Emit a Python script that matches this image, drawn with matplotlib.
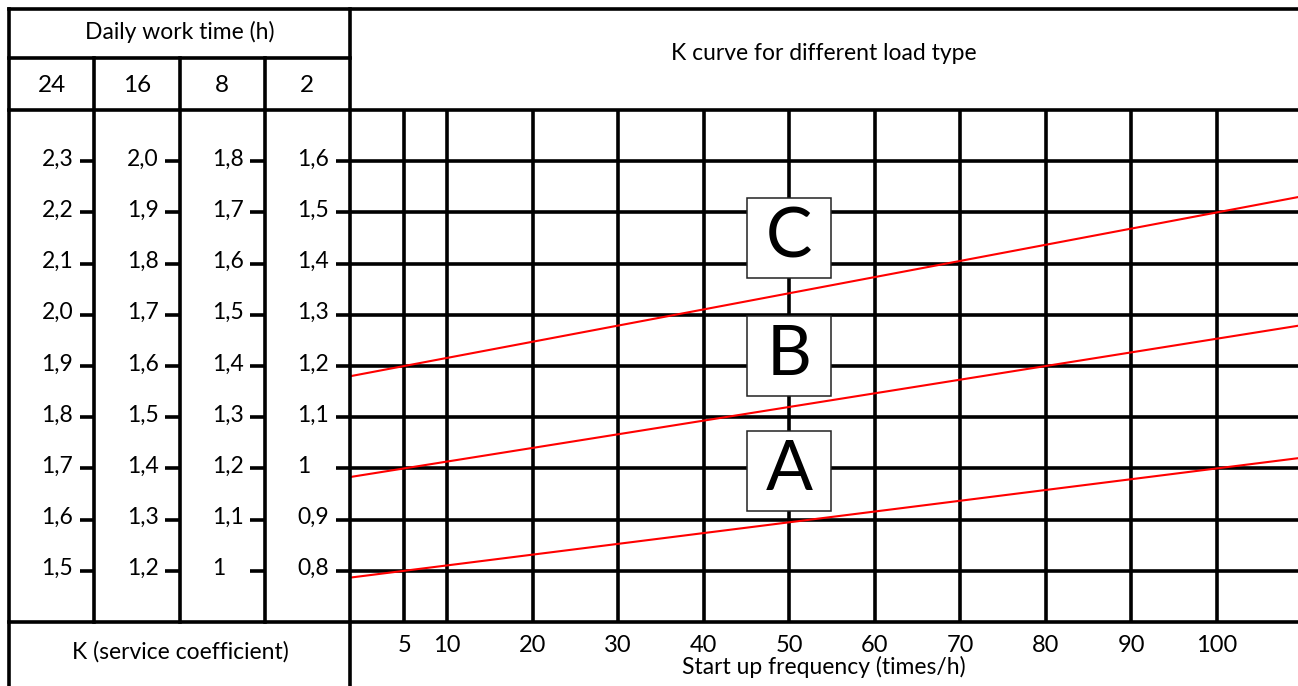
import numpy as np
import matplotlib
matplotlib.use("Agg")
import matplotlib.pyplot as plt
from matplotlib.patches import Rectangle

plt.rcParams['font.family'] = ['Lato', 'DejaVu Sans']

# daily work time columns and their K values (one row per grid line)
hours = ['24', '16', '8', '2']
k_24h = ['2,3', '2,2', '2,1', '2,0', '1,9', '1,8', '1,7', '1,6', '1,5']
k_16h = ['2,0', '1,9', '1,8', '1,7', '1,6', '1,5', '1,4', '1,3', '1,2']
k_8h = ['1,8', '1,7', '1,6', '1,5', '1,4', '1,3', '1,2', '1,1', '1']
k_2h = ['1,6', '1,5', '1,4', '1,3', '1,2', '1,1', '1', '0,9', '0,8']
k_rows = [1.6, 1.5, 1.4, 1.3, 1.2, 1.1, 1.0, 0.9, 0.8]  # 2h scale, used for row position

freq_ticks = [5, 10, 20, 30, 40, 50, 60, 70, 80, 90, 100]

# load type curves, two points read on each (frequency, K on the 2h scale)
load_types = ['A', 'B', 'C']
curve_freq = [(5, 100), (5, 80), (5, 100)]
curve_k = [(0.8, 1.0), (1.0, 1.2), (1.2, 1.5)]
label_k = [0.995, 1.22, 1.45]
label_freq = 50

W, H = 1298, 686
LW = 2.6
fig = plt.figure(figsize=(W / 100, H / 100), dpi=100)


def box(x0, y0, x1, y1):
    # pixel box (top-left origin) -> figure fraction
    return [x0 / W, 1 - y1 / H, (x1 - x0) / W, (y1 - y0) / H]


# main chart
ax = fig.add_axes(box(350, 110, W, 622))
ax.set_xlim(-1.34, 109.47)
ax.set_ylim(0.7, 1.7)
ax.patch.set_visible(False)
for s in ax.spines.values():
    s.set_visible(False)
ax.set_xticks(freq_ticks)
ax.set_yticks(k_rows)
ax.set_yticklabels([])
ax.tick_params(length=0, labelsize=17, pad=9)
ax.grid(True, color='black', lw=LW, zorder=1)
ax.set_axisbelow(True)
ax.set_xlabel('Start up frequency (times/h)', fontsize=16.5, labelpad=0)

for name, fx, ky, yl in zip(load_types, curve_freq, curve_k, label_k):
    ax.axline((fx[0], ky[0]), (fx[1], ky[1]), color='#ff0000', lw=1.5, zorder=3)
    ax.add_patch(Rectangle((label_freq - 4.9, yl - 0.078), 9.8, 0.156,
                           facecolor='white', edgecolor='#222222', lw=1.1, zorder=4))
    ax.text(label_freq, yl, name, ha='center', va='center', fontsize=50, zorder=5)

# left panel with the K value columns
lax = fig.add_axes(box(9, 110, 350, 622))
lax.set_xlim(0, 4)
lax.set_ylim(0.7, 1.7)
lax.axis('off')
for c, labels in enumerate([k_24h, k_16h, k_8h, k_2h]):
    lax.hlines(k_rows, c + 0.83, c + 1.0, color='black', lw=LW)
    for k, lab in zip(k_rows, labels):
        lax.text(c + 0.38, k + 0.004, lab, ha='left', va='center', fontsize=16.5)

# table frame in pixel coordinates
frame = fig.add_axes([0, 0, 1, 1], zorder=10)
frame.set_xlim(0, W)
frame.set_ylim(H, 0)
frame.axis('off')
kw = dict(color='black', lw=LW, capstyle='projecting')
frame.hlines([9, 110, 622], 9, W, **kw)
frame.hlines(58, 9, 350, **kw)
frame.vlines([9, 350], 9, H, **kw)
col_w = (350 - 9) / 4
frame.vlines([9 + col_w * c for c in range(1, 4)], 58, 622, **kw)

frame.text(180, 32, 'Daily work time (h)', ha='center', va='center', fontsize=16.5)
for c, h in enumerate(hours):
    frame.text(9 + col_w * (c + 0.5), 85, h, ha='center', va='center', fontsize=17.5)
frame.text(824, 54, 'K curve for different load type', ha='center', va='center', fontsize=16.5)
frame.text(180, 652, 'K (service coefficient)', ha='center', va='center', fontsize=16.5)

fig.savefig('out.png', dpi=100, facecolor='white')
